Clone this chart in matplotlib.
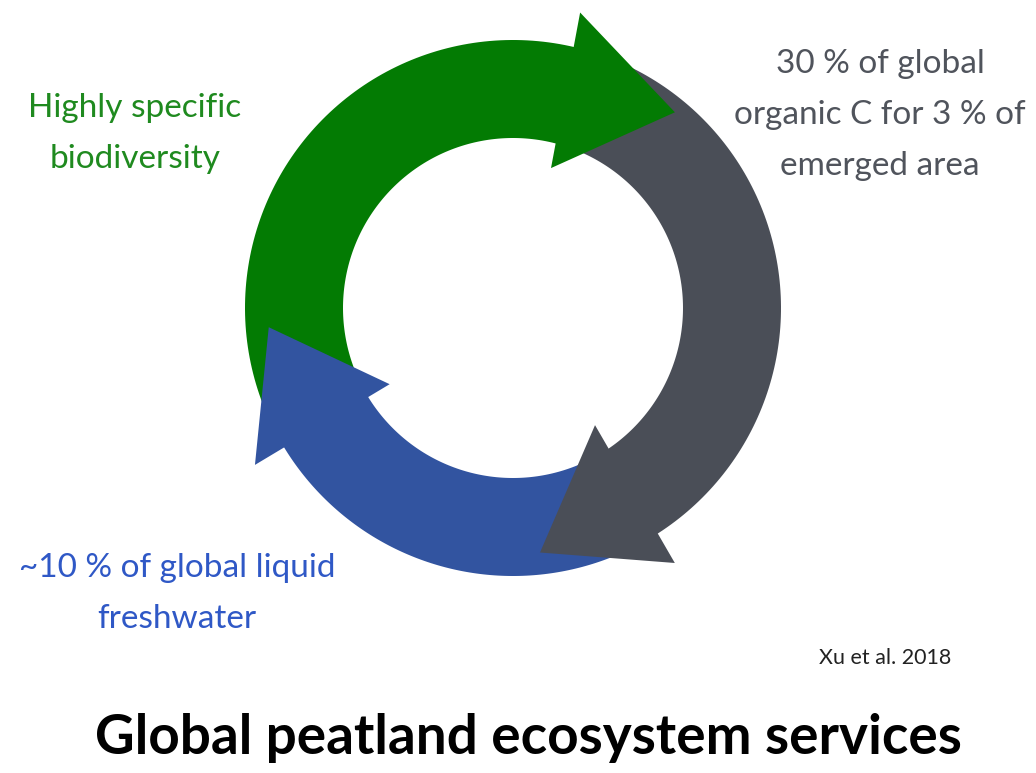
import numpy as np
import matplotlib.pyplot as plt
from matplotlib.patches import Polygon

plt.rcParams['font.family'] = ['Lato', 'DejaVu Sans']

# ring geometry (pixel units, angles clockwise from top, degrees)
cx, cy = 513, 308
r_in, r_out = 170, 268

names = ['biodiversity', 'carbon', 'water']
colors = ['#037B03', '#4A4E57', '#3254A0']
tail_deg = [-118, 20, 152]
base_in = [15.2, 145.0, 238.3]     # inner barb angle
base_out = [12.8, 147.6, 238.7]    # outer barb angle
barb_r = [(145, 303), (143, 302), (145, 302)]
tip_deg = [39.6, 173.7, 265.5]
tip_r = [254, 246, 245]

label_lines = [['Highly specific', 'biodiversity'],
               ['30 % of global', 'organic C for 3 % of', 'emerged area'],
               ['~10 % of global liquid', 'freshwater']]
label_colors = ['#1F8A1F', '#50545C', '#2F58C6']
label_x = [135, 880, 177]
label_y0 = [108, 64, 568]
line_gap = 51


def pt(r, deg):
    t = np.radians(deg)
    return cx + r * np.sin(t), cy - r * np.cos(t)


fig = plt.figure(figsize=(10.36, 7.73), dpi=100)
ax = fig.add_axes([0, 0, 1, 1])
ax.set_xlim(0, 1036)
ax.set_ylim(773, 0)
ax.axis('off')

shafts, heads = [], []
for i in range(3):
    # run the shaft a little past the head base so the joint is hidden
    bend = max(base_in[i], base_out[i]) + 4
    th = np.linspace(tail_deg[i], bend, 120)
    outer = [pt(r_out, t) for t in th]
    inner = [pt(r_in, t) for t in th[::-1]]
    shafts.append(Polygon(outer + inner, closed=True, color=colors[i], lw=0))
    head = [pt(barb_r[i][1], base_out[i]), pt(tip_r[i], tip_deg[i]),
            pt(barb_r[i][0], base_in[i])]
    heads.append(Polygon(head, closed=True, color=colors[i], lw=0))

for p in shafts:
    p.set_zorder(1)
    ax.add_patch(p)
for p in heads:
    p.set_zorder(2)
    ax.add_patch(p)

for lines, c, x, y0 in zip(label_lines, label_colors, label_x, label_y0):
    for k, s in enumerate(lines):
        ax.text(x, y0 + k * line_gap, s, color=c, fontsize=24,
                ha='center', va='center')

ax.text(885, 658, 'Xu et al. 2018', fontsize=15.5, ha='center', va='center',
        color='#222222')
ax.text(528, 738, 'Global peatland ecosystem services', fontsize=39.5,
        fontweight='bold', ha='center', va='center', color='black')

fig.savefig('out.png', dpi=100)
